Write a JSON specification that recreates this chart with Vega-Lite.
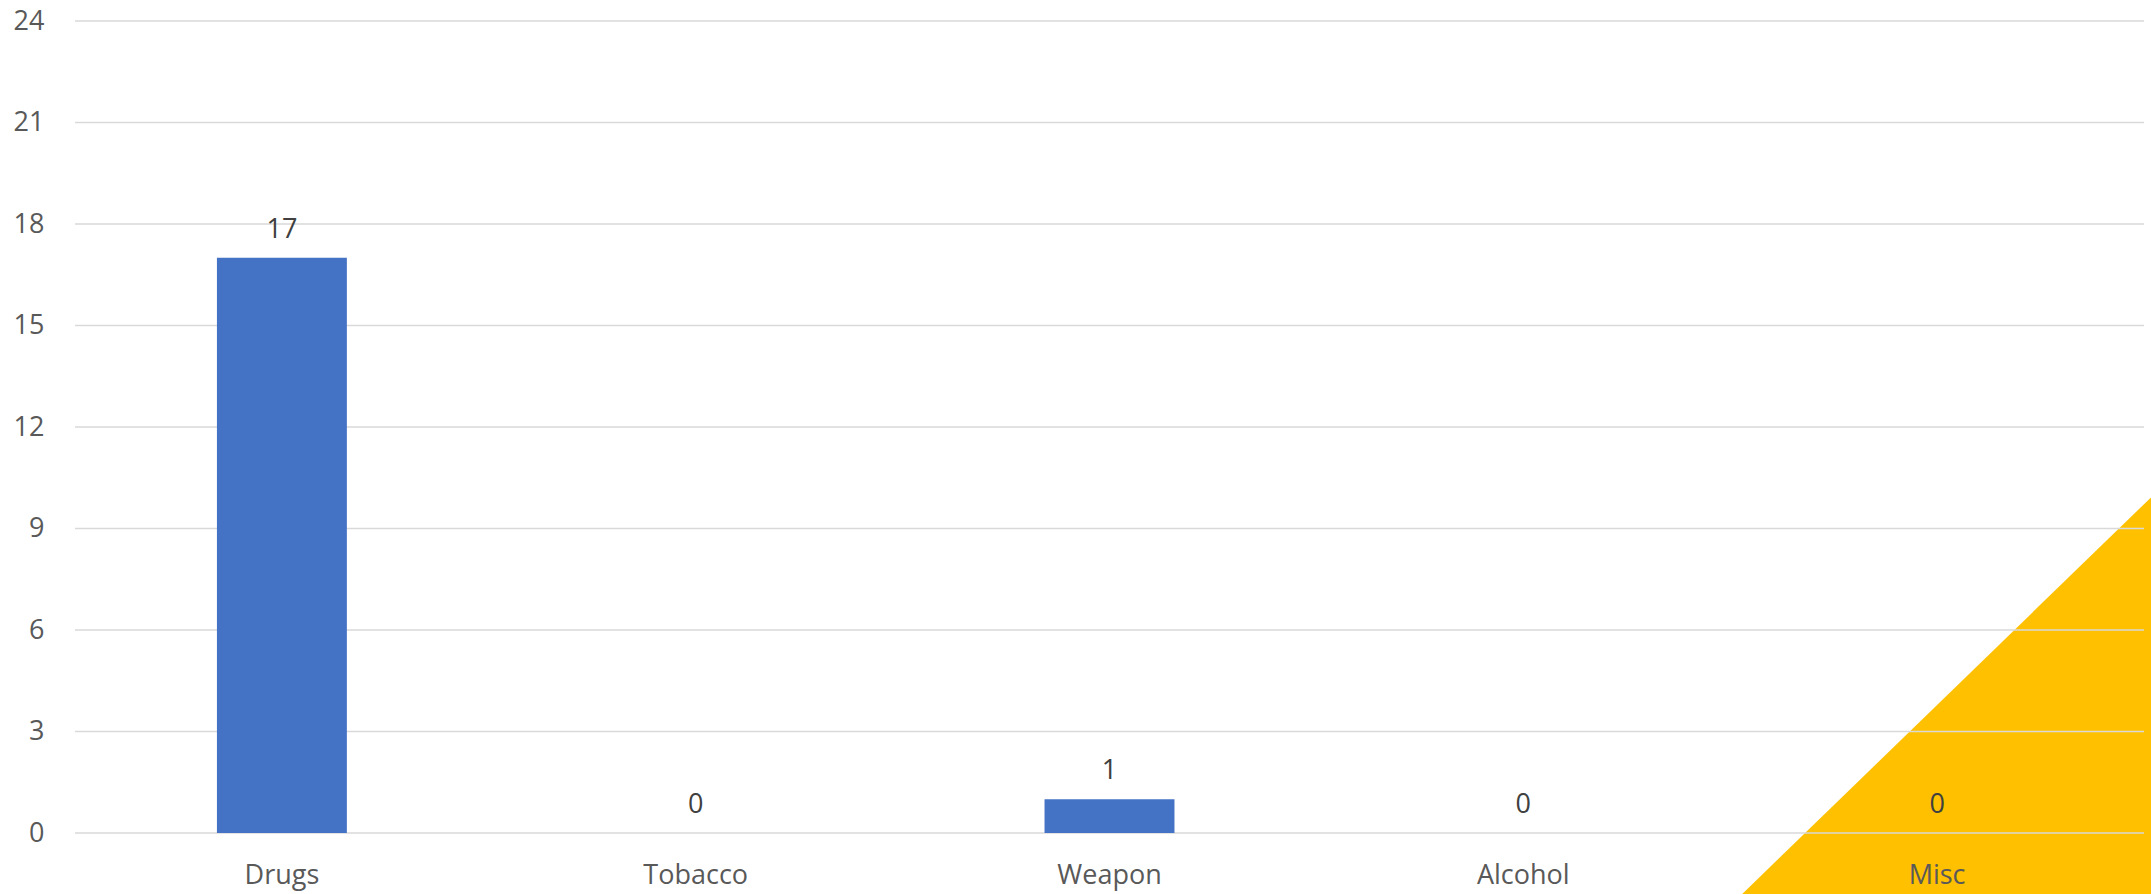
{
  "$schema": "https://vega.github.io/schema/vega-lite/v6.json",
  "width": 2069,
  "height": 812,
  "autosize": {"type": "none"},
  "padding": {"left": 75, "top": 21, "right": 7, "bottom": 61},
  "background": "white",
  "config": {"font": "Open Sans", "view": {"stroke": null}},
  "datasets": {
    "bars": [
      {"cat": "Drugs", "count": 17},
      {"cat": "Tobacco", "count": 0},
      {"cat": "Weapon", "count": 1},
      {"cat": "Alcohol", "count": 0},
      {"cat": "Misc", "count": 0}
    ],
    "grid": [
      {"count": 0}, {"count": 3}, {"count": 6}, {"count": 9}, {"count": 12},
      {"count": 15}, {"count": 18}, {"count": 21}, {"count": 24}
    ],
    "tri": [
      {"tx": 0.8057, "count": -1.81, "count2": -1.81},
      {"tx": 1.0034, "count": 9.92, "count2": -1.81}
    ]
  },
  "layer": [
    {
      "data": {"name": "tri"},
      "mark": {"type": "area", "color": "#FFC000", "clip": false, "opacity": 1},
      "encoding": {
        "x": {"field": "tx", "type": "quantitative", "scale": {"domain": [0, 1], "nice": false, "zero": false}, "axis": null},
        "y": {"field": "count", "type": "quantitative", "scale": {"domain": [0, 24], "nice": false}, "axis": {"title": null, "grid": false, "domain": false, "ticks": false, "tickSize": 0, "values": [0, 3, 6, 9, 12, 15, 18, 21, 24], "labelFontSize": 27, "labelColor": "#595959", "labelPadding": 31}},
        "y2": {"field": "count2"}
      }
    },
    {
      "data": {"name": "grid"},
      "mark": {"type": "rule", "color": "#D9D9D9", "strokeWidth": 1.3},
      "encoding": {
        "y": {"field": "count", "type": "quantitative", "scale": {"domain": [0, 24], "nice": false}, "axis": {"title": null, "grid": false, "domain": false, "ticks": false, "tickSize": 0, "values": [0, 3, 6, 9, 12, 15, 18, 21, 24], "labelFontSize": 27, "labelColor": "#595959", "labelPadding": 31}}
      }
    },
    {
      "data": {"name": "bars"},
      "mark": {"type": "bar", "color": "#4472C4"},
      "encoding": {
        "x": {"field": "cat", "type": "nominal", "sort": null, "scale": {"paddingInner": 0.686, "paddingOuter": 0.343}, "axis": {"title": null, "domain": false, "ticks": false, "tickSize": 0, "labelAngle": 0, "labelFontSize": 27, "labelColor": "#595959", "labelBaseline": "alphabetic", "labelPadding": 50, "zindex": 2}},
        "y": {"field": "count", "type": "quantitative", "scale": {"domain": [0, 24], "nice": false}, "axis": {"title": null, "grid": false, "domain": false, "ticks": false, "tickSize": 0, "values": [0, 3, 6, 9, 12, 15, 18, 21, 24], "labelFontSize": 27, "labelColor": "#595959", "labelPadding": 31}}
      }
    },
    {
      "data": {"name": "bars"},
      "mark": {"type": "text", "fontSize": 27, "color": "#404040", "baseline": "alphabetic", "dy": -20},
      "encoding": {
        "x": {"field": "cat", "type": "nominal", "sort": null, "axis": null},
        "y": {"field": "count", "type": "quantitative"},
        "text": {"field": "count", "type": "quantitative"}
      }
    }
  ],
  "resolve": {"scale": {"x": "independent"}}
}
